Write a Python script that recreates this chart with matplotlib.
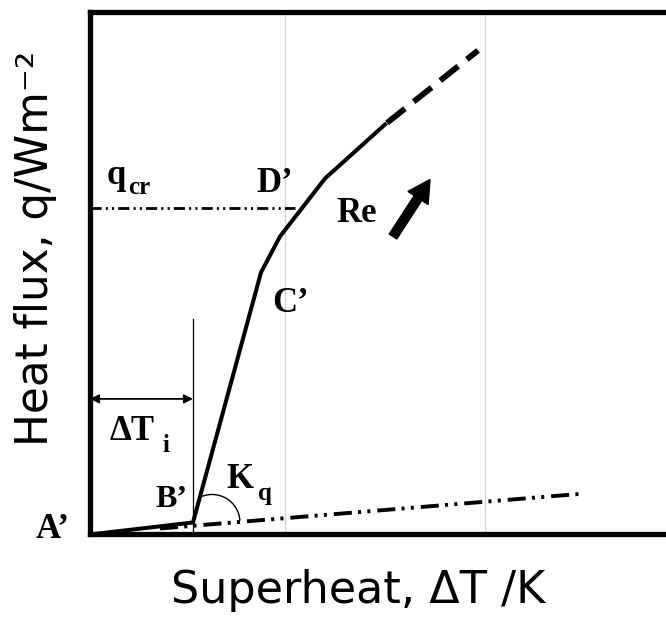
import numpy as np
import matplotlib
matplotlib.use('Agg')
import matplotlib.pyplot as plt
from matplotlib.patches import Arc

plt.rcParams['lines.scale_dashes'] = False

# boiling curve A'-B'-C'-D' and its extension (arbitrary units)
curve_x = [0.0, 5.15, 8.55, 9.5, 11.75, 14.75]
curve_y = [0.0, 0.6, 13.1, 14.9, 17.8, 20.5]
ext_x = [14.85, 19.4]
ext_y = [20.58, 24.2]

# convective (non-boiling) line and critical heat flux level
conv_x = [3.5, 24.5]
conv_y = [0.3, 2.03]
q_cr = 16.3
q_cr_end = 10.25

# onset superheat marker
dT_i = 5.15
dT_i_top = 10.75
dT_i_arrow_y = 6.78

grid_x = [9.75, 19.75]

# Re arrow (tail, tip)
re_tail = (15.15, 14.9)
re_tip = (17.0, 17.75)

serif = dict(family='Liberation Serif', weight='bold', color='black')

fig = plt.figure(figsize=(6.66, 6.21), dpi=100)
ax = fig.add_axes([0.1351, 0.1393, 0.886, 0.8406])
ax.set_xlim(0, 29.5)
ax.set_ylim(0, 26.1)
ax.set_xticks([])
ax.set_yticks([])
for s in ax.spines.values():
    s.set_linewidth(3.8)
    s.set_color('black')

for gx in grid_x:
    ax.axvline(gx, color='#d4d4d4', lw=1.0, zorder=0)

ax.plot(curve_x, curve_y, color='black', lw=2.9, solid_joinstyle='miter')
ax.plot(ext_x, ext_y, color='black', lw=4.2, dashes=(16.5, 8), dash_capstyle='butt')

ax.plot(conv_x, conv_y, color='black', lw=2.8,
        dashes=(13, 4.5, 2.2, 4.5, 2.2, 5), dash_capstyle='butt')
ax.plot([0, q_cr_end], [q_cr, q_cr], color='black', lw=2.0,
        dashes=(8, 3, 1.5, 3, 1.5, 3), dash_capstyle='butt')

ax.plot([dT_i, dT_i], [0, dT_i_top], color='black', lw=0.9)
ax.annotate('', xy=(0, dT_i_arrow_y), xytext=(dT_i, dT_i_arrow_y),
            arrowprops=dict(arrowstyle='<|-|>', color='black', lw=1.3,
                            mutation_scale=13, shrinkA=0, shrinkB=0))

ax.add_patch(Arc((6.1, 0.6), 2.8, 2.8, theta1=4, theta2=116, color='black', lw=1.0))

ax.arrow(re_tail[0], re_tail[1], re_tip[0] - re_tail[0], re_tip[1] - re_tail[1],
         width=0.45, head_width=1.2, head_length=1.1, length_includes_head=True,
         color='black')

# point labels
ax.text(-1.85, -0.175, 'A\u2019', fontsize=25, ha='center', va='baseline', clip_on=False, **serif)
ax.text(4.05, 1.375, 'B\u2019', fontsize=23, ha='center', va='baseline', **serif)
ax.text(10.05, 11.1, 'C\u2019', fontsize=25, ha='center', va='baseline', **serif)
ax.text(9.25, 17.1, 'D\u2019', fontsize=25, ha='center', va='baseline', **serif)
ax.text(13.35, 15.6, 'Re', fontsize=25, ha='center', va='baseline', **serif)
ax.text(7.5, 2.33, 'K', fontsize=25, ha='center', va='baseline', **serif)
ax.text(8.75, 1.73, 'q', fontsize=18, ha='center', va='baseline', **serif)
ax.text(2.1, 4.73, '\u0394T', fontsize=25, ha='center', va='baseline', **serif)
ax.text(3.8, 4.1, 'i', fontsize=18, ha='center', va='baseline', **serif)
ax.text(1.3, 17.5, 'q', fontsize=25, ha='center', va='baseline', **serif)
ax.text(2.45, 17.0, 'cr', fontsize=18, ha='center', va='baseline', **serif)

fig.text(0.537, 0.029, 'Superheat, \u0394T /K', fontsize=32, ha='center', va='baseline',
         family='DejaVu Sans')
fig.text(0.054, 0.6006, 'Heat flux, q/Wm\u207b\u00b2', fontsize=31.5, rotation=90,
         ha='center', va='center', family='DejaVu Sans')

fig.savefig('out.png', dpi=100)
